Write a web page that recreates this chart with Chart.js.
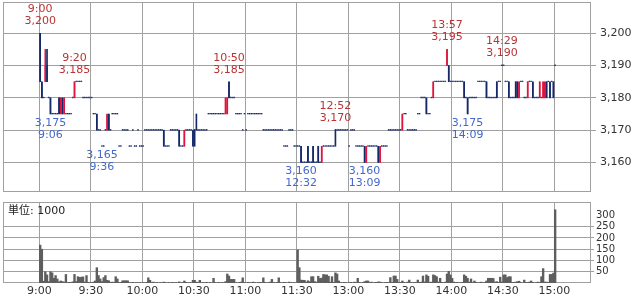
<!DOCTYPE html>
<html>
<head>
<meta charset="utf-8">
<script src="https://cdn.jsdelivr.net/npm/chart.js@4.4.1/dist/chart.umd.min.js"></script>
<style>
    html, body { margin: 0; padding: 0; background: #fff; }
    #wrap { position: relative; width: 637px; height: 296px; overflow: hidden; }
    #priceBox { position: absolute; left: 0; top: 0; }
    #volBox { position: absolute; left: 0; top: 196px; }
</style>
</head>
<body>
<div id="wrap">
    <div id="priceBox"><canvas id="priceData" width="637" height="196"></canvas></div>
    <div id="volBox"><canvas id="volumeData" width="637" height="100"></canvas></div>
</div>
<script>
// axis ticks
const timeTicks = [0, 30, 60, 90, 120, 150, 180, 210, 240, 270, 300];
const timeTickLabels = ["9:00", "9:30", "10:00", "10:30", "11:00", "11:30", "13:00", "13:30", "14:00", "14:30", "15:00"];
const priceTicks = [3160, 3170, 3180, 3190, 3200];
const volumeTicks = [50, 100, 150, 200, 250, 300];

// 1 minute bars, 9:00-11:29 then 12:30-15:00
const openPrice = [
    3200, 3185, 3180, 3185, 3190, 3180, 3180, 3175, 3175, 3175,
    3175, 3180, 3175, 3180, 3175, 3175, 3175, 3175, 3175, 3180,
    3180, 3185, 3185, 3185, 3185, 3180, 3180, 3180, 3180, 3180,
    3180, 3175, 3175, 3175, 3170, 3170, 3165, 3165, 3170, 3170,
    3175, 3170, 3175, 3175, 3175, 3175, 3165, 3165, 3170, 3170,
    3170, 3170, 3165, 3165, 3170, 3165, 3165, 3170, 3165, 3165,
    3165, 3170, 3170, 3170, 3170, 3170, 3170, 3170, 3170, 3170,
    3170, 3170, 3170, 3165, 3165, 3165, 3170, 3170, 3170, 3170,
    3170, 3170, 3165, 3165, 3165, 3170, 3170, 3170, 3170, 3170,
    3170, 3170, 3170, 3170, 3170, 3170, 3170, 3170, 3175, 3175,
    3175, 3175, 3175, 3175, 3175, 3175, 3175, 3175, 3175, 3175,
    3185, 3180, 3180, 3180, 3175, 3175, 3175, 3175, 3170, 3175,
    3170, 3175, 3175, 3175, 3175, 3175, 3175, 3175, 3175, 3175,
    3170, 3170, 3170, 3170, 3170, 3170, 3170, 3170, 3170, 3170,
    3170, 3170, 3165, 3165, 3165, 3170, 3170, 3170, 3165, 3165,
    3165, 3165, 3165, 3160, 3160, 3160, 3165, 3160, 3160, 3165,
    3160, 3160, 3165, 3160, 3160, 3165, 3165, 3165, 3165, 3165,
    3165, 3165, 3170, 3170, 3170, 3170, 3170, 3170, 3170, 3170,
    3165, 3170, 3170, 3170, 3165, 3165, 3165, 3165, 3165, 3165,
    3160, 3165, 3165, 3165, 3165, 3165, 3165, 3165, 3160, 3165,
    3165, 3165, 3165, 3170, 3170, 3170, 3170, 3170, 3170, 3170,
    3170, 3170, 3175, 3175, 3170, 3170, 3170, 3170, 3170, 3170,
    3175, 3175, 3180, 3180, 3180, 3180, 3175, 3175, 3180, 3180,
    3185, 3185, 3185, 3185, 3185, 3185, 3185, 3190, 3190, 3185,
    3185, 3185, 3185, 3185, 3185, 3185, 3185, 3185, 3180, 3180,
    3180, 3180, 3180, 3180, 3180, 3185, 3185, 3185, 3185, 3185,
    3185, 3180, 3180, 3180, 3180, 3180, 3185, 3185, 3185, 3190,
    3190, 3185, 3185, 3185, 3180, 3180, 3180, 3185, 3185, 3180,
    3185, 3185, 3180, 3180, 3180, 3185, 3185, 3185, 3180, 3180,
    3180, 3180, 3180, 3180, 3180, 3185, 3185, 3185, 3185, 3185,
    3190
];
const highPrice = [
    3200, 3185, 3180, 3195, 3195, 3180, 3180, 3175, 3175, 3175,
    3175, 3180, 3180, 3180, 3180, 3175, 3175, 3175, 3175, 3180,
    3185, 3185, 3185, 3185, 3185, 3180, 3180, 3180, 3180, 3180,
    3180, 3175, 3175, 3175, 3170, 3170, 3165, 3165, 3170, 3175,
    3175, 3170, 3175, 3175, 3175, 3175, 3165, 3165, 3170, 3170,
    3170, 3170, 3165, 3165, 3170, 3165, 3165, 3170, 3165, 3165,
    3165, 3170, 3170, 3170, 3170, 3170, 3170, 3170, 3170, 3170,
    3170, 3170, 3170, 3165, 3165, 3165, 3170, 3170, 3170, 3170,
    3170, 3170, 3165, 3165, 3170, 3170, 3170, 3170, 3170, 3170,
    3170, 3175, 3170, 3170, 3170, 3170, 3170, 3170, 3175, 3175,
    3175, 3175, 3175, 3175, 3175, 3175, 3175, 3175, 3180, 3180,
    3185, 3180, 3180, 3180, 3175, 3175, 3175, 3175, 3170, 3175,
    3170, 3175, 3175, 3175, 3175, 3175, 3175, 3175, 3175, 3175,
    3170, 3170, 3170, 3170, 3170, 3170, 3170, 3170, 3170, 3170,
    3170, 3170, 3165, 3165, 3165, 3170, 3170, 3170, 3165, 3165,
    3165, 3165, 3165, 3160, 3160, 3160, 3165, 3160, 3160, 3165,
    3160, 3160, 3165, 3160, 3165, 3165, 3165, 3165, 3165, 3165,
    3165, 3165, 3170, 3170, 3170, 3170, 3170, 3170, 3170, 3170,
    3165, 3170, 3170, 3170, 3165, 3165, 3165, 3165, 3165, 3165,
    3165, 3165, 3165, 3165, 3165, 3165, 3165, 3165, 3165, 3165,
    3165, 3165, 3165, 3170, 3170, 3170, 3170, 3170, 3170, 3170,
    3170, 3175, 3175, 3175, 3170, 3170, 3170, 3170, 3170, 3170,
    3175, 3175, 3180, 3180, 3180, 3180, 3175, 3175, 3180, 3185,
    3185, 3185, 3185, 3185, 3185, 3185, 3185, 3195, 3190, 3185,
    3185, 3185, 3185, 3185, 3185, 3185, 3185, 3185, 3180, 3180,
    3180, 3180, 3180, 3180, 3180, 3185, 3185, 3185, 3185, 3185,
    3185, 3180, 3180, 3180, 3180, 3180, 3185, 3185, 3185, 3190,
    3190, 3185, 3185, 3185, 3180, 3180, 3180, 3185, 3185, 3185,
    3185, 3185, 3180, 3180, 3185, 3185, 3185, 3185, 3180, 3180,
    3180, 3185, 3180, 3185, 3185, 3185, 3185, 3185, 3185, 3185,
    3190
];
const lowPrice = [
    3185, 3180, 3180, 3185, 3185, 3180, 3175, 3175, 3175, 3175,
    3175, 3175, 3175, 3175, 3175, 3175, 3175, 3175, 3175, 3180,
    3180, 3185, 3185, 3185, 3185, 3180, 3180, 3180, 3180, 3180,
    3180, 3175, 3175, 3170, 3170, 3170, 3165, 3165, 3170, 3170,
    3170, 3170, 3175, 3175, 3175, 3175, 3165, 3165, 3170, 3170,
    3170, 3170, 3165, 3165, 3170, 3165, 3165, 3170, 3165, 3165,
    3165, 3170, 3170, 3170, 3170, 3170, 3170, 3170, 3170, 3170,
    3170, 3170, 3165, 3165, 3165, 3165, 3170, 3170, 3170, 3170,
    3170, 3165, 3165, 3165, 3165, 3170, 3170, 3170, 3170, 3165,
    3165, 3170, 3170, 3170, 3170, 3170, 3170, 3170, 3175, 3175,
    3175, 3175, 3175, 3175, 3175, 3175, 3175, 3175, 3175, 3175,
    3180, 3180, 3180, 3180, 3175, 3175, 3175, 3175, 3170, 3175,
    3170, 3175, 3175, 3175, 3175, 3175, 3175, 3175, 3175, 3175,
    3170, 3170, 3170, 3170, 3170, 3170, 3170, 3170, 3170, 3170,
    3170, 3170, 3165, 3165, 3165, 3170, 3170, 3170, 3165, 3165,
    3165, 3165, 3160, 3160, 3160, 3160, 3160, 3160, 3160, 3160,
    3160, 3160, 3160, 3160, 3160, 3165, 3165, 3165, 3165, 3165,
    3165, 3165, 3165, 3170, 3170, 3170, 3170, 3170, 3170, 3170,
    3165, 3170, 3170, 3170, 3165, 3165, 3165, 3165, 3165, 3160,
    3160, 3165, 3165, 3165, 3165, 3165, 3165, 3160, 3160, 3165,
    3165, 3165, 3165, 3170, 3170, 3170, 3170, 3170, 3170, 3170,
    3170, 3170, 3175, 3175, 3170, 3170, 3170, 3170, 3170, 3170,
    3175, 3175, 3180, 3180, 3180, 3175, 3175, 3175, 3180, 3180,
    3185, 3185, 3185, 3185, 3185, 3185, 3185, 3190, 3185, 3185,
    3185, 3185, 3185, 3185, 3185, 3185, 3185, 3180, 3180, 3175,
    3180, 3180, 3180, 3180, 3180, 3185, 3185, 3185, 3185, 3185,
    3180, 3180, 3180, 3180, 3180, 3180, 3180, 3185, 3185, 3190,
    3190, 3185, 3185, 3180, 3180, 3180, 3180, 3180, 3180, 3180,
    3185, 3185, 3180, 3180, 3180, 3185, 3185, 3180, 3180, 3180,
    3180, 3180, 3180, 3180, 3180, 3180, 3185, 3180, 3185, 3180,
    3190
];
const closePrice = [
    3185, 3180, 3180, 3190, 3185, 3180, 3175, 3175, 3175, 3175,
    3175, 3175, 3180, 3175, 3180, 3175, 3175, 3175, 3175, 3180,
    3185, 3185, 3185, 3185, 3185, 3180, 3180, 3180, 3180, 3180,
    3180, 3175, 3175, 3170, 3170, 3170, 3165, 3165, 3170, 3175,
    3170, 3170, 3175, 3175, 3175, 3175, 3165, 3165, 3170, 3170,
    3170, 3170, 3165, 3165, 3170, 3165, 3165, 3170, 3165, 3165,
    3165, 3170, 3170, 3170, 3170, 3170, 3170, 3170, 3170, 3170,
    3170, 3170, 3165, 3165, 3165, 3165, 3170, 3170, 3170, 3170,
    3170, 3165, 3165, 3165, 3170, 3170, 3170, 3170, 3170, 3165,
    3170, 3170, 3170, 3170, 3170, 3170, 3170, 3170, 3175, 3175,
    3175, 3175, 3175, 3175, 3175, 3175, 3175, 3175, 3180, 3180,
    3180, 3180, 3180, 3180, 3175, 3175, 3175, 3175, 3170, 3175,
    3170, 3175, 3175, 3175, 3175, 3175, 3175, 3175, 3175, 3175,
    3170, 3170, 3170, 3170, 3170, 3170, 3170, 3170, 3170, 3170,
    3170, 3170, 3165, 3165, 3165, 3170, 3170, 3170, 3165, 3165,
    3165, 3165, 3160, 3160, 3160, 3160, 3160, 3160, 3160, 3160,
    3160, 3160, 3160, 3160, 3165, 3165, 3165, 3165, 3165, 3165,
    3165, 3165, 3170, 3170, 3170, 3170, 3170, 3170, 3170, 3170,
    3165, 3170, 3170, 3170, 3165, 3165, 3165, 3165, 3165, 3160,
    3165, 3165, 3165, 3165, 3165, 3165, 3165, 3160, 3165, 3165,
    3165, 3165, 3165, 3170, 3170, 3170, 3170, 3170, 3170, 3170,
    3170, 3175, 3175, 3175, 3170, 3170, 3170, 3170, 3170, 3170,
    3175, 3175, 3180, 3180, 3180, 3175, 3175, 3175, 3180, 3185,
    3185, 3185, 3185, 3185, 3185, 3185, 3185, 3195, 3185, 3185,
    3185, 3185, 3185, 3185, 3185, 3185, 3185, 3180, 3180, 3175,
    3180, 3180, 3180, 3180, 3180, 3185, 3185, 3185, 3185, 3185,
    3180, 3180, 3180, 3180, 3180, 3180, 3180, 3185, 3185, 3190,
    3190, 3185, 3185, 3180, 3180, 3180, 3180, 3180, 3180, 3185,
    3185, 3185, 3180, 3180, 3185, 3185, 3185, 3180, 3180, 3180,
    3180, 3185, 3180, 3185, 3185, 3180, 3185, 3180, 3185, 3180,
    3190
];
// volume, unit 1000 shares
const volume = [
    168, 150, 8, 50, 36, 6, 50, 45, 21, 33,
    18, 5, 9, 6, 4, 38, 2, 3, 2, 5,
    38, 6, 28, 25, 26, 27, 4, 33, 3, 2,
    2, 4, 9, 68, 33, 18, 6, 24, 33, 12,
    10, 3, 4, 3, 28, 18, 2, 3, 10, 10,
    10, 10, 2, 0, 3, 0, 2, 0, 2, 0,
    2, 0, 3, 23, 12, 2, 4, 0, 2, 0,
    2, 0, 4, 2, 0, 2, 0, 3, 0, 2,
    0, 5, 0, 2, 9, 3, 0, 2, 0, 12,
    12, 4, 2, 12, 0, 2, 0, 3, 0, 2,
    0, 21, 2, 0, 3, 0, 2, 0, 6, 40,
    31, 16, 16, 16, 2, 0, 3, 4, 23, 2,
    0, 3, 2, 0, 4, 2, 0, 2, 3, 2,
    23, 3, 0, 2, 4, 16, 2, 0, 3, 23,
    2, 0, 3, 2, 0, 4, 2, 0, 2, 0,
    147, 68, 13, 12, 12, 4, 10, 6, 28, 28,
    6, 4, 30, 20, 22, 38, 36, 36, 30, 4,
    28, 3, 45, 40, 9, 2, 0, 3, 2, 0,
    2, 3, 0, 4, 2, 21, 3, 0, 2, 6,
    9, 9, 2, 4, 0, 2, 3, 5, 4, 2,
    0, 2, 3, 2, 24, 3, 31, 31, 16, 2,
    3, 9, 2, 0, 4, 13, 2, 0, 3, 2,
    13, 3, 4, 31, 5, 36, 30, 3, 4, 36,
    33, 28, 4, 21, 3, 2, 4, 40, 52, 36,
    21, 4, 2, 3, 0, 2, 3, 36, 30, 21,
    4, 18, 2, 9, 3, 0, 2, 4, 0, 3,
    9, 21, 21, 21, 20, 4, 6, 3, 26, 4,
    36, 36, 24, 28, 28, 3, 2, 4, 6, 8,
    2, 0, 13, 2, 3, 4, 9, 3, 0, 2,
    4, 2, 28, 64, 4, 4, 2, 38, 38, 44,
    325
];
// bars that carry a high / low caption
const highMarks = [0, 20, 110, 172, 237, 269];
const lowMarks = [6, 36, 152, 189, 249];

const GRID = '#a0a0a0';
const TEXT = '#333';
const UP = '#e0143c';
const DOWN = '#14296c';
const FONT = { family: 'DejaVu Sans', size: 11 };
const X_MIN = -21.15;
const X_MAX = 320.8;

const slots = openPrice.map((v, i) => i);
const barColors = slots.map(i => closePrice[i] > openPrice[i] ? UP : DOWN);

function slotTime(i) {
    const t = i < 150 ? 540 + i : 750 + (i - 150);
    return Math.floor(t / 60) + ':' + String(t % 60).padStart(2, '0');
}

function timeAxis(showLabels) {
    return {
        type: 'linear',
        min: X_MIN,
        max: X_MAX,
        offset: false,
        grid: { color: GRID, offset: false, drawTicks: false },
        border: { display: false },
        ticks: showLabels ? {
            font: FONT, color: TEXT, padding: 2, maxRotation: 0, autoSkip: false,
            callback: v => timeTickLabels[timeTicks.indexOf(v)]
        } : { display: false },
        afterBuildTicks: s => { s.ticks = timeTicks.map(v => ({ value: v })); },
        afterFit: s => { s.height = showLabels ? 13 : 0; s.paddingLeft = 0; s.paddingRight = 0; }
    };
}

const framePlugin = {
    id: 'frame',
    beforeDatasetsDraw(chart) {
        const { ctx, chartArea: a } = chart;
        ctx.save();
        ctx.strokeStyle = GRID;
        ctx.lineWidth = 1;
        ctx.strokeRect(Math.round(a.left) + 0.5, Math.round(a.top) - 0.5, Math.round(a.right - a.left), Math.round(a.bottom - a.top));
        ctx.restore();
    }
};

const markPlugin = {
    id: 'marks',
    afterDatasetsDraw(chart) {
        const { ctx, scales: { x, y } } = chart;
        ctx.save();
        ctx.font = '11px "DejaVu Sans"';
        ctx.textAlign = 'center';
        ctx.textBaseline = 'middle';
        ctx.fillStyle = '#b83434';
        highMarks.forEach(i => {
            const px = x.getPixelForValue(i + 0.5);
            const py = y.getPixelForValue(highPrice[i]);
            ctx.fillText(slotTime(i), px, py - 24);
            ctx.fillText(highPrice[i].toLocaleString('en-US'), px, py - 12);
        });
        ctx.fillStyle = '#4468cc';
        lowMarks.forEach(i => {
            const px = x.getPixelForValue(i + 0.5);
            const py = y.getPixelForValue(lowPrice[i]);
            ctx.fillText(lowPrice[i].toLocaleString('en-US'), px, py + 9);
            ctx.fillText(slotTime(i), px, py + 21);
        });
        ctx.restore();
    }
};

// candles
const priceChart = new Chart(document.getElementById('priceData'), {
    type: 'bar',
    data: {
        datasets: [{
            label: 'wick',
            data: slots.map(i => ({ x: i + 0.5, y: [lowPrice[i], highPrice[i]] })),
            backgroundColor: barColors,
            grouped: false,
            maxBarThickness: 1,
            categoryPercentage: 1,
            barPercentage: 1,
            order: 2
        }, {
            label: 'body',
            data: slots.map(i => ({ x: i + 0.5, y: [openPrice[i], closePrice[i]] })),
            backgroundColor: barColors,
            grouped: false,
            categoryPercentage: 1,
            barPercentage: 0.8,
            minBarLength: 1,
            order: 1
        }]
    },
    options: {
        responsive: false,
        animation: false,
        events: [],
        devicePixelRatio: 1,
        layout: { padding: { left: 3, top: 3, right: 0, bottom: 4 } },
        plugins: { legend: { display: false }, tooltip: { enabled: false } },
        scales: {
            x: timeAxis(false),
            y: {
                position: 'right',
                min: 3150.83,
                max: 3209.39,
                grid: { color: GRID, tickLength: 6 },
                border: { display: false },
                ticks: { font: FONT, color: TEXT, padding: 4, callback: v => v.toLocaleString('en-US') },
                afterBuildTicks: s => { s.ticks = priceTicks.map(v => ({ value: v })); },
                afterFit: s => { s.width = 47; s.paddingTop = 0; s.paddingBottom = 0; }
            }
        }
    },
    plugins: [framePlugin, markPlugin]
});

// volume
const unitPlugin = {
    id: 'unit',
    afterDraw(chart) {
        const { ctx, chartArea: a } = chart;
        ctx.save();
        ctx.font = '11px "DejaVu Sans", "Noto Sans CJK JP"';
        ctx.fillStyle = '#222';
        ctx.textBaseline = 'middle';
        ctx.fillText('単位: 1000', a.left + 5, a.top + 8);
        ctx.restore();
    }
};

const volumeChart = new Chart(document.getElementById('volumeData'), {
    type: 'bar',
    data: {
        datasets: [{
            label: 'volume',
            data: slots.map(i => ({ x: i + 0.5, y: volume[i] })),
            backgroundColor: '#5e5e5e',
            categoryPercentage: 1,
            barPercentage: 1
        }]
    },
    options: {
        responsive: false,
        animation: false,
        events: [],
        devicePixelRatio: 1,
        layout: { padding: { left: 3, top: 7, right: 0, bottom: 0 } },
        plugins: { legend: { display: false }, tooltip: { enabled: false } },
        scales: {
            x: timeAxis(true),
            y: {
                position: 'right',
                min: 0,
                max: 355,
                grid: { color: c => (c.tick && c.tick.value === 300) ? 'rgba(0,0,0,0)' : GRID, tickLength: 4 },
                border: { display: false },
                ticks: { font: { family: 'DejaVu Sans', size: 10 }, color: TEXT, padding: 2 },
                afterBuildTicks: s => { s.ticks = volumeTicks.map(v => ({ value: v })); },
                afterFit: s => { s.width = 47; s.paddingTop = 0; s.paddingBottom = 0; }
            }
        }
    },
    plugins: [framePlugin, unitPlugin]
});
</script>
</body>
</html>
